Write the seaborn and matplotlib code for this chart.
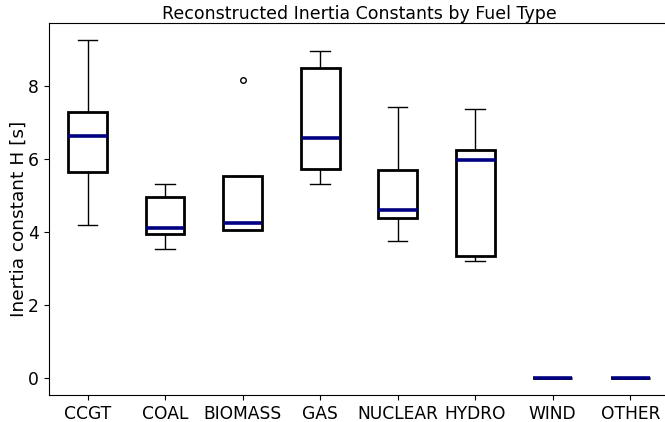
"""
Box plot of reconstructed inertia constants per fuel type.
"""

import numpy as np
import pandas as pd
import matplotlib
matplotlib.use("Agg")
import matplotlib.pyplot as plt
import seaborn as sns

# five-number summaries (low whisker, Q1, median, Q3, high whisker)
fuels = ["CCGT", "COAL", "BIOMASS", "GAS", "NUCLEAR", "HYDRO", "WIND", "OTHER"]
ccgt = [4.19, 5.63, 6.62, 7.27, 9.26]
coal = [3.53, 3.94, 4.10, 4.95, 5.31]
biomass = [4.05, 4.05, 4.25, 5.52, 8.14]
gas = [5.30, 5.73, 6.57, 8.48, 8.94]
nuclear = [3.76, 4.39, 4.59, 5.69, 7.41]
hydro = [3.21, 3.33, 5.97, 6.24, 7.36]
wind = [0.0, 0.0, 0.0, 0.0, 0.0]
other = [0.0, 0.0, 0.0, 0.0, 0.0]

values = [ccgt, coal, biomass, gas, nuclear, hydro, wind, other]
df = pd.DataFrame(
    [(f, v) for f, vals in zip(fuels, values) for v in vals],
    columns=["fuel", "H"],
)

fig = plt.figure(figsize=(6.65, 4.22), dpi=100)
ax = fig.add_axes([48.8 / 665, 27 / 422, (669 - 48.8) / 665, 372.3 / 422])

sns.boxplot(
    data=df,
    x="fuel",
    y="H",
    order=fuels,
    ax=ax,
    width=0.5,
    color="white",
    linecolor="black",
    linewidth=2,
    whiskerprops={"linewidth": 1},
    capprops={"linewidth": 1},
    medianprops={"color": "navy", "linewidth": 2.6},
    flierprops={"marker": "o", "markersize": 4, "markerfacecolor": "none",
                "markeredgecolor": "black", "markeredgewidth": 1},
)

ax.set_title("Reconstructed Inertia Constants by Fuel Type", fontsize=12.5, pad=3)
ax.set_xlabel("")
ax.set_ylabel("Inertia constant H [s]", fontsize=13.3)
ax.yaxis.set_label_coords(-0.0335, 0.4735)
ax.set_yticks([0, 2, 4, 6, 8])
ax.tick_params(axis="both", labelsize=12.3)
ax.set_xlim(-0.5, 7.5)
ax.set_ylim(-0.463, 9.72)

fig.savefig("out.png", dpi=100)
plt.close(fig)
